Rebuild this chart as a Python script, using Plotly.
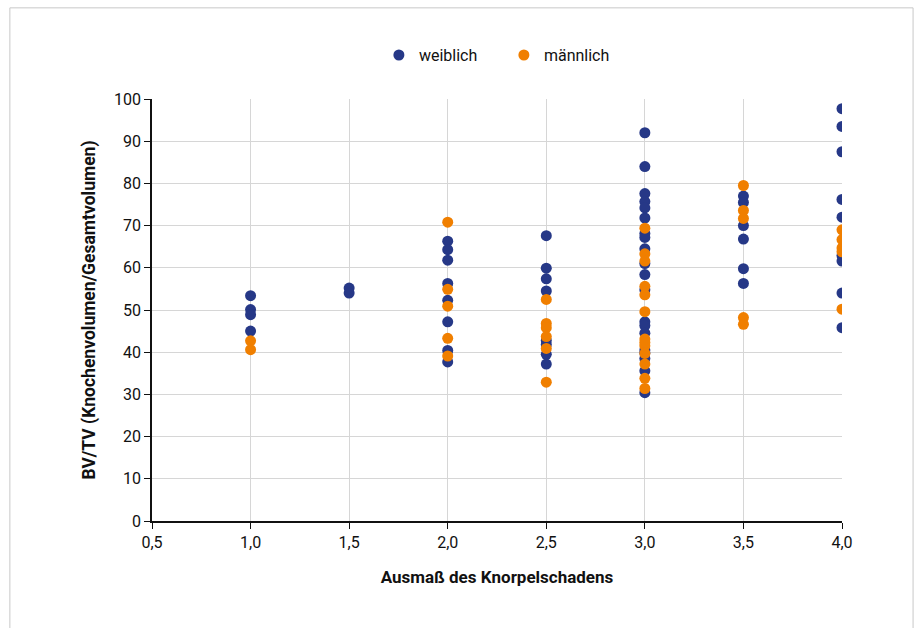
import plotly.graph_objects as go

# Ausmaß des Knorpelschadens (Grad) und BV/TV-Werte je Gruppe
weiblich_x = [1.0, 1.0, 1.0, 1.0,
              1.5, 1.5,
              2.0, 2.0, 2.0, 2.0, 2.0, 2.0, 2.0, 2.0,
              2.5, 2.5, 2.5, 2.5, 2.5, 2.5, 2.5, 2.5,
              3.0, 3.0, 3.0, 3.0, 3.0, 3.0, 3.0, 3.0, 3.0, 3.0, 3.0, 3.0,
              3.0, 3.0, 3.0, 3.0, 3.0, 3.0, 3.0, 3.0,
              3.5, 3.5, 3.5, 3.5, 3.5, 3.5,
              4.0, 4.0, 4.0, 4.0, 4.0, 4.0, 4.0, 4.0, 4.0]
weiblich_y = [53.4, 50.1, 48.9, 45.0,
              55.2, 54.0,
              66.3, 64.3, 61.8, 56.3, 52.3, 47.2, 40.4, 37.7,
              67.6, 59.9, 57.4, 54.5, 42.8, 41.8, 39.5, 37.2,
              92.0, 84.0, 77.6, 75.7, 74.2, 71.8, 68.1, 67.2, 64.5, 61.0, 58.4, 54.8,
              47.2, 46.3, 44.5, 40.5, 38.5, 35.6, 30.4, 39.8,
              77.0, 75.5, 70.0, 66.8, 59.8, 56.3,
              97.7, 93.5, 87.5, 76.2, 72.0, 62.9, 61.6, 54.0, 45.8]

maennlich_x = [1.0, 1.0,
               2.0, 2.0, 2.0, 2.0, 2.0,
               2.5, 2.5, 2.5, 2.5, 2.5, 2.5,
               3.0, 3.0, 3.0, 3.0, 3.0, 3.0, 3.0, 3.0, 3.0, 3.0, 3.0, 3.0, 3.0,
               3.5, 3.5, 3.5, 3.5, 3.5,
               4.0, 4.0, 4.0, 4.0, 4.0]
maennlich_y = [42.7, 40.6,
               70.8, 54.9, 50.9, 43.3, 39.1,
               52.5, 46.8, 45.8, 43.7, 40.9, 32.9,
               69.4, 63.3, 61.6, 55.6, 53.6, 49.6, 43.1, 41.5, 39.7, 37.2, 33.8, 31.4, 42.3,
               79.5, 73.6, 71.7, 48.2, 46.6,
               69.0, 66.7, 64.7, 63.8, 50.2]

x_ticks = [0.5, 1.0, 1.5, 2.0, 2.5, 3.0, 3.5, 4.0]
y_ticks = [0, 10, 20, 30, 40, 50, 60, 70, 80, 90, 100]

BLUE = "#263887"
ORANGE = "#f07f00"
FONT = "Roboto, sans-serif"
TEXT = "#111111"

fig = go.Figure()
fig.add_trace(go.Scatter(
    x=weiblich_x, y=weiblich_y, mode="markers", name="weiblich",
    marker=dict(color=BLUE, size=11, line=dict(width=0)),
))
fig.add_trace(go.Scatter(
    x=maennlich_x, y=maennlich_y, mode="markers", name="männlich",
    marker=dict(color=ORANGE, size=11, line=dict(width=0)),
))

# Rahmen um die gesamte Grafik
fig.add_shape(type="rect", xref="paper", yref="paper",
              x0=-0.206, x1=1.103, y0=-0.30, y1=1.216,
              line=dict(color="#c8c8c8", width=1), layer="below")

fig.update_layout(
    width=923, height=628,
    margin=dict(l=152, r=81, t=99, b=107),
    paper_bgcolor="white", plot_bgcolor="white",
    separators=",.",
    font=dict(family=FONT, size=16, color=TEXT),
    showlegend=True,
    legend=dict(orientation="h", x=0.51, xanchor="center", y=1.104, yanchor="middle",
                font=dict(size=16, family=FONT, color=TEXT), itemwidth=30,
                traceorder="normal", entrywidth=80),
    xaxis=dict(
        range=[0.5, 4.0], tickvals=x_ticks, tickformat=".1f",
        showgrid=True, gridcolor="#d6d6d6", gridwidth=1,
        showline=True, linecolor=TEXT, linewidth=1.5,
        ticks="outside", ticklen=6, tickcolor=TEXT,
        zeroline=False,
        title=dict(text="<b>Ausmaß des Knorpelschadens</b>",
                   font=dict(size=17, family=FONT, color=TEXT), standoff=20),
    ),
    yaxis=dict(
        range=[0, 100], tickvals=y_ticks,
        showgrid=True, gridcolor="#d6d6d6", gridwidth=1,
        showline=True, linecolor=TEXT, linewidth=1.5,
        ticks="outside", ticklen=6, tickcolor=TEXT,
        zeroline=False,
        title=dict(text="<b>BV/TV (Knochenvolumen/Gesamtvolumen)</b>",
                   font=dict(size=17.5, family=FONT, color=TEXT), standoff=14),
    ),
)

fig.write_html("out.html")
